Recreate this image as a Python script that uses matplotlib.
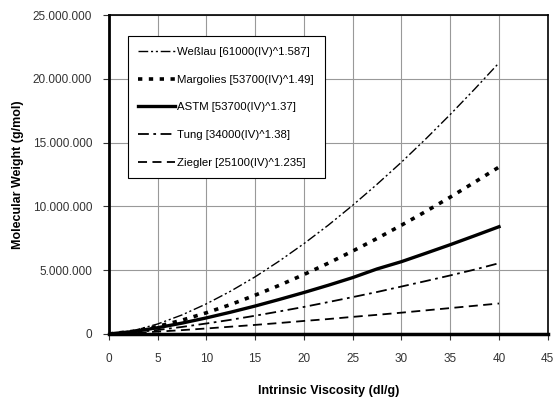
import matplotlib.pyplot as plt
from matplotlib.ticker import FuncFormatter

plt.rcParams['font.family'] = ['Liberation Sans', 'DejaVu Sans']

iv = [0, 2.5, 5, 7.5, 10, 12.5, 15, 17.5, 20, 22.5, 25, 27.5, 30, 32.5, 35, 37.5, 40]

wesslau = [0, 0.26e6, 0.78e6, 1.49e6, 2.36e6, 3.36e6, 4.48e6, 5.73e6, 7.08e6, 8.53e6,
           10.09e6, 11.74e6, 13.47e6, 15.30e6, 17.21e6, 19.20e6, 21.26e6]
margolies = [0, 0.21e6, 0.59e6, 1.08e6, 1.66e6, 2.31e6, 3.04e6, 3.82e6, 4.66e6, 5.55e6,
             6.50e6, 7.49e6, 8.53e6, 9.61e6, 10.73e6, 11.90e6, 13.09e6]
astm = [0, 0.19e6, 0.49e6, 0.85e6, 1.26e6, 1.71e6, 2.19e6, 2.71e6, 3.25e6, 3.82e6,
        4.42e6, 5.10e6, 5.67e6, 6.33e6, 7.00e6, 7.70e6, 8.41e6]
tung = [0, 0.12e6, 0.31e6, 0.55e6, 0.82e6, 1.11e6, 1.43e6, 1.77e6, 2.12e6, 2.50e6,
        2.89e6, 3.29e6, 3.72e6, 4.15e6, 4.59e6, 5.05e6, 5.55e6]
ziegler = [0, 0.08e6, 0.18e6, 0.30e6, 0.43e6, 0.57e6, 0.71e6, 0.86e6, 1.02e6, 1.17e6,
           1.34e6, 1.50e6, 1.67e6, 1.85e6, 2.03e6, 2.21e6, 2.39e6]

labels = ['Weßlau [61000(IV)^1.587]', 'Margolies [53700(IV)^1.49]', 'ASTM [53700(IV)^1.37]',
          'Tung [34000(IV)^1.38]', 'Ziegler [25100(IV)^1.235]']

fig = plt.figure(figsize=(5.55, 3.99), dpi=100)
ax = fig.add_axes([0.196, 0.163, 0.791, 0.799])

ax.plot(iv, wesslau, color='black', lw=1.0, linestyle=(0, (7, 2, 1.5, 2, 1.5, 2)), label=labels[0])
ax.plot(iv, margolies, color='black', lw=2.6, linestyle=(0, (1.2, 1.8)), label=labels[1])
ax.plot(iv, astm, color='black', lw=2.4, linestyle='-', label=labels[2])
ax.plot(iv, tung, color='black', lw=1.3, linestyle=(0, (6, 2.5, 1.5, 2.5)), label=labels[3])
ax.plot(iv, ziegler, color='black', lw=1.3, linestyle=(0, (5, 3)), label=labels[4])

ax.set_xlim(0, 45)
ax.set_ylim(0, 25e6)
ax.set_xticks(range(0, 46, 5))
ax.set_yticks([0, 5e6, 10e6, 15e6, 20e6, 25e6])
ax.yaxis.set_major_formatter(FuncFormatter(lambda v, p: f'{int(v):,}'.replace(',', '.')))
ax.grid(True, color='#999999', lw=0.8)
ax.set_axisbelow(True)

for side in ['top', 'right']:
    ax.spines[side].set_linewidth(1.2)
ax.spines['left'].set_linewidth(2.0)
ax.spines['bottom'].set_linewidth(2.5)
ax.tick_params(axis='both', labelsize=8.5, colors='#333333', length=4, width=0.8)
ax.tick_params(axis='x', pad=10)
ax.tick_params(axis='y', pad=8)

ax.set_xlabel('Intrinsic Viscosity (dl/g)', fontsize=9, fontweight='bold', labelpad=14)
ax.set_ylabel('Molecular Weight (g/mol)', fontsize=9, fontweight='bold', labelpad=6)

leg = ax.legend(loc='upper left', bbox_to_anchor=(0.043, 0.934), borderaxespad=0,
                fancybox=False, edgecolor='black', framealpha=1, fontsize=8.2,
                handlelength=3.2, labelspacing=1.55, handletextpad=0.2, borderpad=0.95)
leg.get_frame().set_linewidth(0.8)

fig.savefig('out.png', dpi=100)
